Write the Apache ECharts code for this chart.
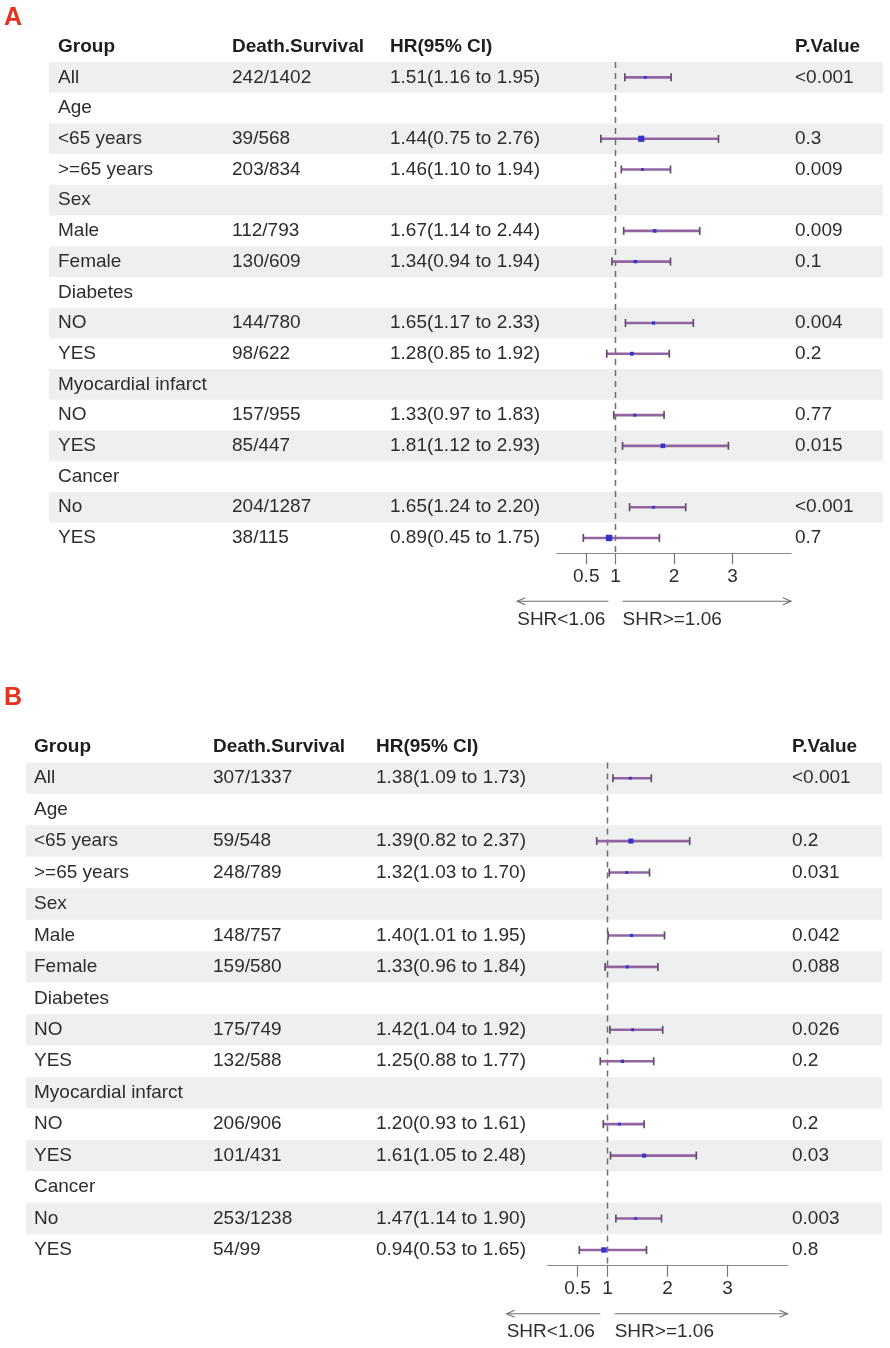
<!DOCTYPE html>
<html lang="en">
<head>
    <meta charset="UTF-8">
    <title>Forest plot A / B</title>
    <script src="https://cdn.jsdelivr.net/npm/echarts@6.0.0/dist/echarts.min.js"></script>
    <style>
        html, body { margin: 0; padding: 0; background: #fff; }
    </style>
</head>
<body>
<div id="main" style="width: 890px;height:1348px;"></div>
<script>
    // ---- data ----
    var header = ['Group', 'Death.Survival', 'HR(95% CI)', 'P.Value'];
    var groups = ['All', 'Age', '<65 years', '>=65 years', 'Sex', 'Male', 'Female', 'Diabetes', 'NO', 'YES',
        'Myocardial infarct', 'NO', 'YES', 'Cancer', 'No', 'YES'];

    var countsA = ['242/1402', '', '39/568', '203/834', '', '112/793', '130/609', '', '144/780', '98/622',
        '', '157/955', '85/447', '', '204/1287', '38/115'];
    var hrA = [1.51, null, 1.44, 1.46, null, 1.67, 1.34, null, 1.65, 1.28, null, 1.33, 1.81, null, 1.65, 0.89];
    var lowA = [1.16, null, 0.75, 1.10, null, 1.14, 0.94, null, 1.17, 0.85, null, 0.97, 1.12, null, 1.24, 0.45];
    var highA = [1.95, null, 2.76, 1.94, null, 2.44, 1.94, null, 2.33, 1.92, null, 1.83, 2.93, null, 2.20, 1.75];
    var pA = ['<0.001', '', '0.3', '0.009', '', '0.009', '0.1', '', '0.004', '0.2', '', '0.77', '0.015', '', '<0.001', '0.7'];

    var countsB = ['307/1337', '', '59/548', '248/789', '', '148/757', '159/580', '', '175/749', '132/588',
        '', '206/906', '101/431', '', '253/1238', '54/99'];
    var hrB = [1.38, null, 1.39, 1.32, null, 1.40, 1.33, null, 1.42, 1.25, null, 1.20, 1.61, null, 1.47, 0.94];
    var lowB = [1.09, null, 0.82, 1.03, null, 1.01, 0.96, null, 1.04, 0.88, null, 0.93, 1.05, null, 1.14, 0.53];
    var highB = [1.73, null, 2.37, 1.70, null, 1.95, 1.84, null, 1.92, 1.77, null, 1.61, 2.48, null, 1.90, 1.65];
    var pB = ['<0.001', '', '0.2', '0.031', '', '0.042', '0.088', '', '0.026', '0.2', '', '0.2', '0.03', '', '0.003', '0.8'];

    var xTicks = [0.5, 1, 2, 3];
    var refLine = 1;
    var arrowText = ['SHR<1.06', 'SHR>=1.06'];

    // ---- layout / style ----
    var FONT = "'Liberation Sans', Arial, Helvetica, sans-serif";
    var FS = 19;
    var TXT = '#2d2d2d';
    var BAND = '#eef0ef';
    var CI_COLOR = '#9264a0';
    var CAP_COLOR = '#634d6a';
    var PT_COLOR = '#3434cc';
    var GRAY = '#6e6e6e';

    var panels = [
        {
            name: 'A', counts: countsA, hr: hrA, low: lowA, high: highA, p: pA,
            grid: { left: 557, right: 99, top: 31.3, height: 522 },
            cols: [58, 232, 390, 795], band: [49, 883]
        },
        {
            name: 'B', counts: countsB, hr: hrB, low: lowB, high: highB, p: pB,
            grid: { left: 547.5, right: 102.5, top: 731, height: 534.7 },
            cols: [34, 213, 376, 792], band: [26, 882]
        }
    ];

    function fmt(v) { return v.toFixed(2); }

    var grids = [], xAxes = [], yAxes = [], series = [];

    panels.forEach(function (pn, k) {
        var nRows = groups.length + 1; // header + data rows
        var cells = [header];
        for (var i = 0; i < groups.length; i++) {
            cells.push([
                groups[i],
                pn.counts[i],
                pn.hr[i] == null ? '' : fmt(pn.hr[i]) + '(' + fmt(pn.low[i]) + ' to ' + fmt(pn.high[i]) + ')',
                pn.p[i]
            ]);
        }

        grids.push(Object.assign({ containLabel: false }, pn.grid));
        xAxes.push({
            type: 'value', gridIndex: k, min: 0, max: 4, position: 'bottom',
            splitLine: { show: false },
            axisLine: { show: true, onZero: false, lineStyle: { color: '#888', width: 1.2 } },
            axisTick: { show: true, customValues: xTicks, length: 11, lineStyle: { color: '#777', width: 1.2 } },
            axisLabel: { show: true, customValues: xTicks, margin: 14, color: TXT, fontSize: FS, fontFamily: FONT }
        });
        yAxes.push({
            type: 'value', gridIndex: k, min: -0.5, max: nRows - 0.5, inverse: true, show: false
        });

        // table: bands + text
        var rowIdx = [];
        for (var r = 0; r < nRows; r++) rowIdx.push([0, r]);
        series.push({
            type: 'custom', xAxisIndex: k, yAxisIndex: k, z: 1, silent: true,
            data: rowIdx,
            renderItem: function (params, api) {
                var r = api.value(1);
                var y = api.coord([0, r])[1];
                var y0 = api.coord([0, r - 0.5])[1];
                var y1 = api.coord([0, r + 0.5])[1];
                var children = [];
                if (r > 0 && r % 2 === 1) {
                    children.push({
                        type: 'rect',
                        shape: { x: pn.band[0], y: y0, width: pn.band[1] - pn.band[0], height: y1 - y0 },
                        style: { fill: BAND }
                    });
                }
                cells[r].forEach(function (t, c) {
                    if (!t) return;
                    children.push({
                        type: 'text', x: pn.cols[c], y: y,
                        style: {
                            text: t, fill: r === 0 ? '#1e1e1e' : TXT,
                            fontSize: FS, fontFamily: FONT, fontWeight: r === 0 ? 'bold' : 'normal',
                            textAlign: 'left', textVerticalAlign: 'middle'
                        }
                    });
                });
                return { type: 'group', children: children };
            }
        });

        // dashed reference line
        series.push({
            type: 'custom', xAxisIndex: k, yAxisIndex: k, z: 2, silent: true,
            data: [[refLine, 0.5, nRows - 0.5]],
            renderItem: function (params, api) {
                var a = api.coord([api.value(0), api.value(1)]);
                var b = api.coord([api.value(0), api.value(2)]);
                return {
                    type: 'line',
                    shape: { x1: a[0], y1: a[1], x2: b[0], y2: b[1] },
                    style: { stroke: GRAY, lineWidth: 1.5, lineDash: [6, 5] }
                };
            }
        });

        // confidence intervals
        var ciData = [], ptData = [];
        for (var j = 0; j < groups.length; j++) {
            if (pn.hr[j] == null) continue;
            ciData.push([pn.low[j], pn.high[j], j + 1]);
            var se = (Math.log(pn.high[j]) - Math.log(pn.low[j])) / 3.92;
            ptData.push([pn.hr[j], j + 1, se]);
        }
        series.push({
            type: 'custom', xAxisIndex: k, yAxisIndex: k, z: 3, silent: true,
            data: ciData,
            encode: { x: [0, 1], y: 2 },
            renderItem: function (params, api) {
                var a = api.coord([api.value(0), api.value(2)]);
                var b = api.coord([api.value(1), api.value(2)]);
                var h = 4;
                return {
                    type: 'group', children: [
                        { type: 'line', shape: { x1: a[0], y1: a[1], x2: b[0], y2: b[1] },
                          style: { stroke: CI_COLOR, lineWidth: 2.6 } },
                        { type: 'line', shape: { x1: a[0], y1: a[1] - h, x2: a[0], y2: a[1] + h },
                          style: { stroke: CAP_COLOR, lineWidth: 1.7 } },
                        { type: 'line', shape: { x1: b[0], y1: b[1] - h, x2: b[0], y2: b[1] + h },
                          style: { stroke: CAP_COLOR, lineWidth: 1.7 } }
                    ]
                };
            }
        });

        // point estimates, size follows the standard error
        series.push({
            type: 'scatter', xAxisIndex: k, yAxisIndex: k, z: 4, silent: true,
            symbol: 'rect',
            symbolSize: function (v) { return Math.max(2.8, 18.5 * v[2]); },
            itemStyle: { color: PT_COLOR, opacity: 1 },
            data: ptData
        });

        // arrows under the axis
        series.push({
            type: 'custom', xAxisIndex: k, yAxisIndex: k, z: 2, silent: true,
            data: [[-0.68, 0.88, 0], [1.12, 4, 1]],
            renderItem: function (params, api) {
                var base = api.coord([0, nRows - 0.5])[1];
                var x0 = api.coord([api.value(0), 0])[0];
                var x1 = api.coord([api.value(1), 0])[0];
                var idx = api.value(2);
                var y = base + 48;
                var head = idx === 0
                    ? [[x0 + 8, y - 3.5], [x0, y], [x0 + 8, y + 3.5]]
                    : [[x1 - 8, y - 3.5], [x1, y], [x1 - 8, y + 3.5]];
                return {
                    type: 'group', children: [
                        { type: 'line', shape: { x1: x0, y1: y, x2: x1, y2: y },
                          style: { stroke: GRAY, lineWidth: 1.1 } },
                        { type: 'polyline', shape: { points: head },
                          style: { stroke: GRAY, lineWidth: 1.1, fill: null } },
                        { type: 'text', x: x0, y: base + 66,
                          style: { text: arrowText[idx], fill: TXT, fontSize: FS, fontFamily: FONT,
                                   textAlign: 'left', textVerticalAlign: 'middle' } }
                    ]
                };
            }
        });
    });

    var myChart = echarts.init(document.getElementById('main'));
    myChart.setOption({
        animation: false,
        backgroundColor: '#fff',
        graphic: [
            { type: 'text', left: 4, top: 6, style: { text: 'A', fill: '#e5321e', fontSize: 25, fontWeight: 'bold', fontFamily: FONT } },
            { type: 'text', left: 4, top: 686, style: { text: 'B', fill: '#e5321e', fontSize: 25, fontWeight: 'bold', fontFamily: FONT } }
        ],
        grid: grids,
        xAxis: xAxes,
        yAxis: yAxes,
        series: series
    });
</script>
</body>
</html>
